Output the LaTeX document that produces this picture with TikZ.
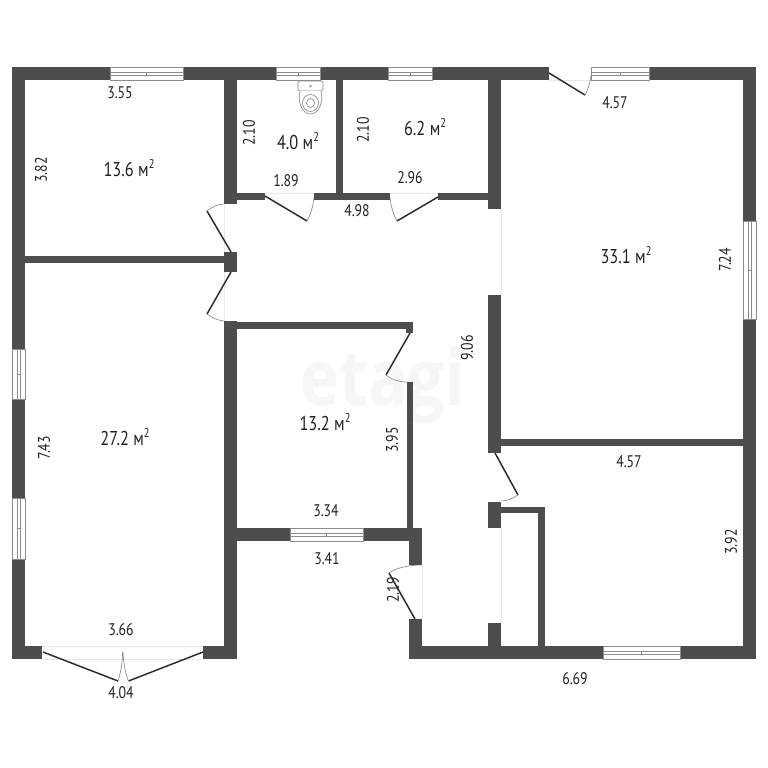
\documentclass[tikz,border=0pt]{standalone}
\usepackage{fontspec}
\setmainfont[FakeStretch=0.82]{PT Sans}
\newfontfamily\markfont[FakeStretch=0.85]{Open Sans}
\definecolor{wallc}{HTML}{4D4D4D}
\definecolor{leafc}{HTML}{2B2B2B}
\definecolor{winc}{HTML}{8C8C8C}
\definecolor{sillc}{HTML}{E8E8E8}
\definecolor{txtc}{HTML}{222222}
\definecolor{markc}{HTML}{F6F6F6}
\newcommand{\sqm}{м\raisebox{0.42em}{\fontsize{9.5}{10}\selectfont 2}}
\tikzset{
  wall/.style={fill=wallc,draw=none},
  winbox/.style={fill=white,draw=winc,line width=0.45pt},
  winline/.style={draw=winc,line width=0.45pt},
  leaf/.style={draw=leafc,line width=1.1pt},
  swing/.style={draw=winc,line width=0.5pt},
  sill/.style={draw=sillc,line width=0.5pt},
  fixture/.style={draw=winc,line width=0.5pt},
  dim/.style={text=txtc,font=\fontsize{12.6}{14}\selectfont,inner sep=0pt},
  area/.style={text=txtc,font=\fontsize{15}{17}\selectfont,inner sep=0pt},
  dimv/.style={dim,rotate=90}
}
\newcommand{\hwin}[3]{% x1,x2,y top
  \fill[winbox] (#1,#3) rectangle (#2,#3+13);
  \draw[winline] (#1,#3+5) -- (#2,#3+5);
  \draw[winline] (#1,#3+8) -- (#2,#3+8);
  \draw[winline] ({(#1+#2)/2},#3+5) -- ({(#1+#2)/2},#3+8);
}
\newcommand{\vwin}[3]{% y1,y2,x left
  \fill[winbox] (#3,#1) rectangle (#3+13,#2);
  \draw[winline] (#3+5,#1) -- (#3+5,#2);
  \draw[winline] (#3+8,#1) -- (#3+8,#2);
  \draw[winline] (#3+5,{(#1+#2)/2}) -- (#3+8,{(#1+#2)/2});
}
\begin{document}
\begin{tikzpicture}[x=0.75pt,y=-0.75pt]
\useasboundingbox (0,0) rectangle (768,768);
\fill[white] (0,0) rectangle (768,768);
% watermark
\node[text=markc,font=\markfont\bfseries\fontsize{58}{58}\selectfont,inner sep=0pt,anchor=base] (mark) at (383,405) {\smash{etagi}};
% thresholds
\draw[sill] (224,204) -- (224,321);
\draw[sill] (501,209) -- (501,295);
\draw[sill] (501,528) -- (501,623);
\draw[sill] (422,565) -- (422,619);
\draw[sill] (265,193) -- (314,193);
\draw[sill] (390,193) -- (438,193);
\draw[sill] (549,80) -- (591,80);
\draw[sill] (42,646) -- (203,646);
\draw[sill] (42,659) -- (203,659);
% outer walls
\fill[wall] (12,67) rectangle (549,80);
\fill[wall] (591,67) rectangle (756,80);
\fill[wall] (12,67) rectangle (25,659);
\fill[wall] (743,67) rectangle (756,659);
\fill[wall] (12,646) rectangle (42,659);
\fill[wall] (203,646) rectangle (237,659);
\fill[wall] (409,646) rectangle (756,659);
% inner walls
\fill[wall] (224,80) rectangle (237,204);
\fill[wall] (224,252) rectangle (237,272);
\fill[wall] (25,256) rectangle (224,263);
\fill[wall] (224,321) rectangle (237,646);
\fill[wall] (237,193) rectangle (265,200);
\fill[wall] (314,193) rectangle (390,200);
\fill[wall] (336,80) rectangle (343,193);
\fill[wall] (438,193) rectangle (488,200);
\fill[wall] (488,80) rectangle (501,209);
\fill[wall] (488,295) rectangle (501,453);
\fill[wall] (501,439) rectangle (743,446);
\fill[wall] (488,502) rectangle (501,528);
\fill[wall] (501,507) rectangle (545,513);
\fill[wall] (538,507) rectangle (545,646);
\fill[wall] (488,623) rectangle (501,646);
\fill[wall] (237,322) rectangle (413,329);
\fill[wall] (406,322) rectangle (413,333);
\fill[wall] (407,382) rectangle (413,528);
\fill[wall] (237,528) rectangle (422,541);
\fill[wall] (409,528) rectangle (422,565);
\fill[wall] (409,619) rectangle (422,646);
% windows
\hwin{110}{183}{67}
\hwin{276}{320}{67}
\hwin{388}{432}{67}
\hwin{591}{649}{67}
\hwin{603}{680}{646}
\hwin{290}{363}{528}
\vwin{221}{319}{743}
\vwin{349}{399}{12}
\vwin{498}{559}{12}
% doors
\draw[leaf] (231,252) -- (207,211);
\draw[swing] (207,211) .. controls (213,206) and (218,204.5) .. (224,204);
\draw[leaf] (231,272) -- (207,314);
\draw[swing] (207,314) .. controls (213,318) and (218,320.5) .. (224,321);
\draw[leaf] (265,196) -- (307,221);
\draw[swing] (307,221) .. controls (311,214) and (313,206) .. (314,197);
\draw[leaf] (438,197) -- (397,221);
\draw[swing] (397,221) .. controls (393,214) and (391,206) .. (390,197);
\draw[leaf] (549,73) -- (585,95);
\draw[swing] (585,95) .. controls (588,90) and (590,83) .. (591,75);
\draw[leaf] (410,333) -- (386,375);
\draw[swing] (386,375) .. controls (392,380) and (400,382) .. (407,382);
\draw[leaf] (495,453) -- (518,495);
\draw[swing] (518,495) .. controls (512,499) and (507,501) .. (501,501);
\draw[leaf] (415,619) -- (389,573);
\draw[swing] (389,573) .. controls (396,568) and (408,565) .. (422,565);
\draw[leaf] (43,652) -- (118,681);
\draw[swing] (118,681) .. controls (121,672) and (122.5,662) .. (122.5,652);
\draw[leaf] (203,652) -- (128.5,681);
\draw[swing] (128.5,681) .. controls (125,672) and (123.5,662) .. (123,652);
% toilet
\draw[fixture,fill=white,rounded corners=1.5pt] (298,81) rectangle (323,91);
\draw[fixture,fill=white] (300,91) .. controls (297,103) and (303,114) .. (310.5,114) .. controls (318,114) and (324,103) .. (321,91);
\draw[fixture] (310.5,103) ellipse (8 and 8.5);
\draw[fixture] (310.5,103) ellipse (4 and 4.5);
\draw[fixture] (310.5,86) circle (1);
% areas
\node[area] (a1) at (129,168) {13.6 \sqm};
\node[area] (a2) at (298,141) {4.0 \sqm};
\node[area] (a3) at (425,127) {6.2 \sqm};
\node[area] (a4) at (626,255) {33.1 \sqm};
\node[area] (a5) at (125,437) {27.2 \sqm};
\node[area] (a6) at (325,422) {13.2 \sqm};
% dimensions
\node[dim] (d1) at (120,93) {3.55};
\node[dimv] (d2) at (41,170) {3.82};
\node[dimv] (d3) at (249,133) {2.10};
\node[dimv] (d4) at (363,130) {2.10};
\node[dim] (d5) at (286,181) {1.89};
\node[dim] (d6) at (357,211) {4.98};
\node[dim] (d7) at (410,178) {2.96};
\node[dim] (d8) at (615,103) {4.57};
\node[dimv] (d9) at (725,260) {7.24};
\node[dimv] (d10) at (467,348) {9.06};
\node[dimv] (d11) at (44,448) {7.43};
\node[dimv] (d12) at (392,440) {3.95};
\node[dim] (d13) at (326,511) {3.34};
\node[dim] (d14) at (327,559) {3.41};
\node[dim] (d15) at (121,630) {3.66};
\node[dim] (d16) at (121,693) {4.04};
\node[dim] (d17) at (629,462) {4.57};
\node[dimv] (d18) at (731,542) {3.92};
\node[dimv] (d19) at (393,590) {2.19};
\node[dim] (d20) at (575,679) {6.69};
\end{tikzpicture}
\end{document}
